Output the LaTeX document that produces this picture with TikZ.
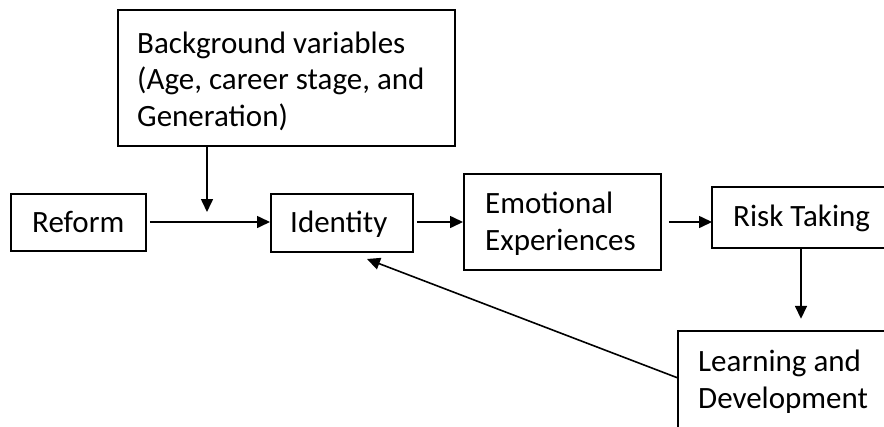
\documentclass[tikz,border=0pt]{standalone}
\usepackage{fontspec}
\setmainfont{Carlito}
\usetikzlibrary{arrows.meta}
\begin{document}
\begin{tikzpicture}[x=1pt,y=-1pt,
  box/.style={draw=black, line width=1.8pt, inner sep=0pt, anchor=north west},
  openbox/.style={box, draw=none},
  frame/.style={line width=1.8pt, line join=miter},
  label/.style={anchor=base west, inner sep=0pt, font=\fontsize{31}{36.5}\selectfont, align=left},
  link/.style={line width=1.6pt, -{Triangle[length=13pt,width=12pt]}}]
\useasboundingbox (0,0) rectangle (884,426);
% boxes (corner at north west, size in px)
\node[box, minimum width=337pt, minimum height=136pt] (bg)  at (117,9)   {};
\node[box, minimum width=135pt, minimum height=57pt]  (ref) at (10,193)  {};
\node[box, minimum width=142pt, minimum height=58pt]  (idn) at (270,193) {};
\node[box, minimum width=197pt, minimum height=96pt]  (emo) at (463,173) {};
% the two boxes on the right run past the page edge: only their visible sides are drawn
\node[openbox, minimum width=260pt, minimum height=59pt]  (rsk) at (712,187) {};
\node[openbox, minimum width=280pt, minimum height=150pt] (lrn) at (678,331) {};
\draw[frame] (rsk.north east) -- (rsk.north west) -- (rsk.south west) -- (rsk.south east);
\draw[frame] (lrn.north east) -- (lrn.north west) -- (lrn.south west);
% texts (anchored at the baseline of their last line)
\node[label] (tbg) at (137,126) {Background variables\\(Age, career stage, and\\Generation)};
\node[label] (tref) at (32,232) {Reform};
\node[label] (tidn) at (290,232) {Identity};
\node[label] (temo) at (485,250) {Emotional\\Experiences};
\node[label] (trsk) at (733,226) {Risk Taking};
\node[label] (tlrn) at (698,408) {Learning and\\Development};
% connectors
\coordinate (meet) at (207,212);
\coordinate (back) at (367,259);
\draw[link] (ref.east |- 0,222) ++(3,0) coordinate (r0) -- (idn.west |- r0);
\draw[link] (bg.south -| meet) -- (meet);
\draw[link] (idn.east |- 0,222) ++(3,0) coordinate (i0) -- (emo.west |- i0);
\draw[link] (emo.east |- 0,222) ++(7,0) coordinate (e0) -- (rsk.west |- e0);
\draw[link] (rsk.south -| 801,0) -- ++(0,71) coordinate (l0);
\draw[link] (lrn.west |- 0,378) -- (back);
\end{tikzpicture}
\end{document}
